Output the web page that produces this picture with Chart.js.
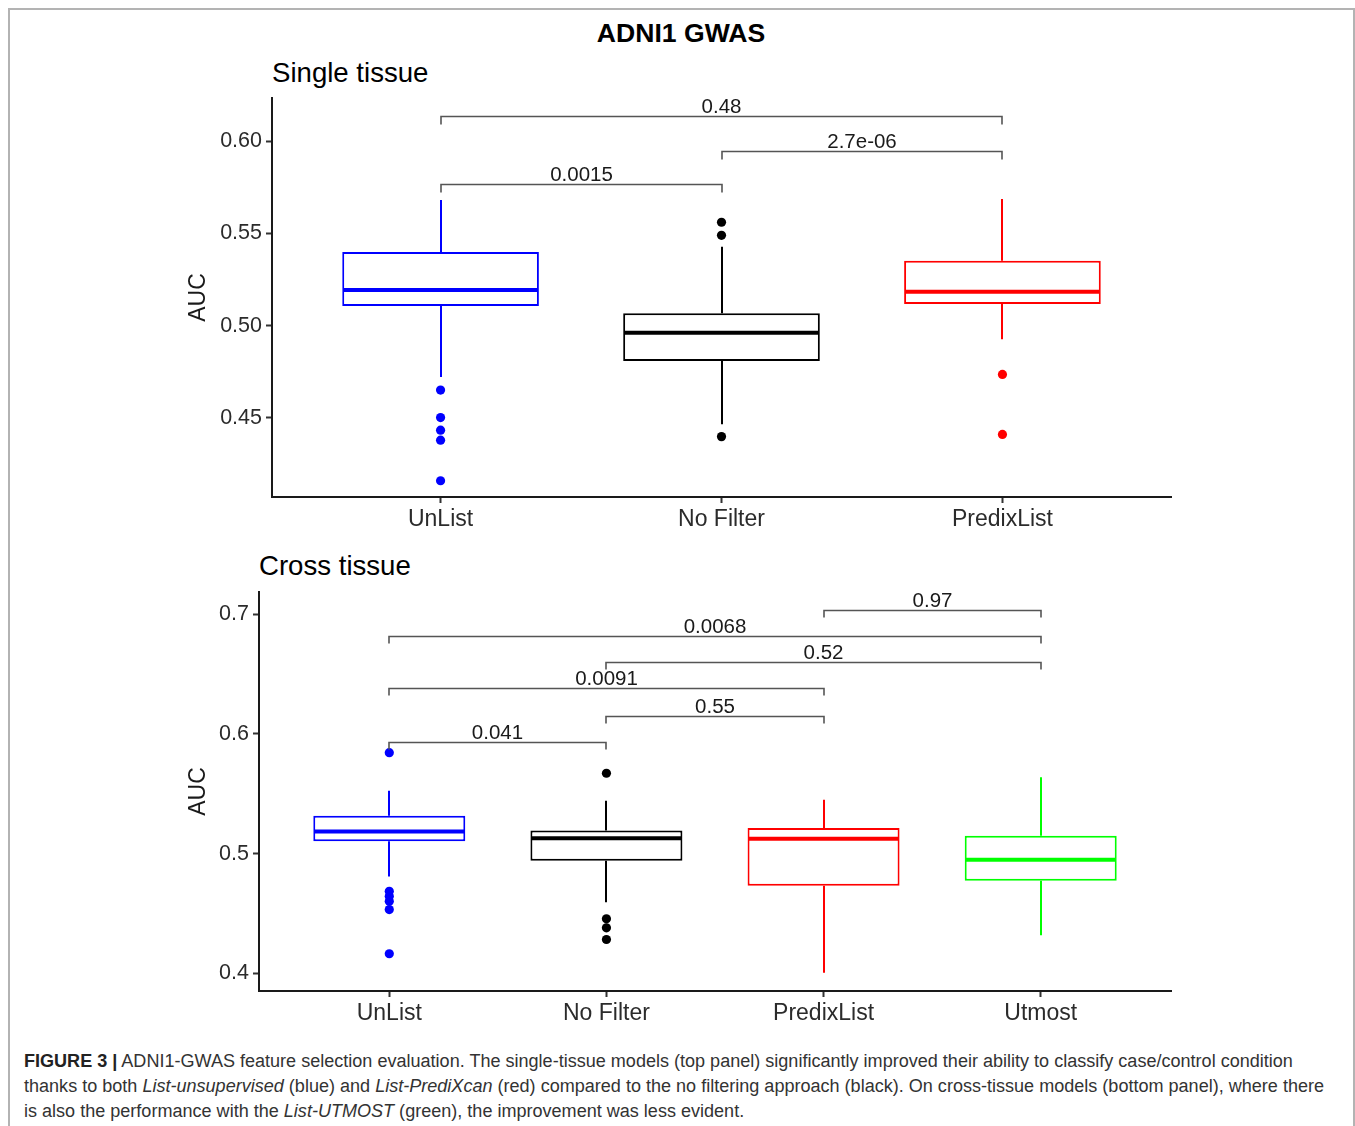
<!DOCTYPE html>
<html><head><meta charset="utf-8">
<script src="https://cdn.jsdelivr.net/npm/chart.js@4.4.0/dist/chart.umd.min.js"></script>
<style>
html,body{margin:0;padding:0;background:#fff;}
body{width:1355px;height:1126px;overflow:hidden;position:relative;font-family:"Liberation Sans",Arial,Helvetica,sans-serif;}
.frame{position:absolute;left:8px;top:8px;width:1343px;height:1200px;border:2px solid #b3b3b3;box-sizing:content-box;}
.txt{position:absolute;white-space:nowrap;color:#000;line-height:1;}
.wrap{position:absolute;left:0;width:1355px;}
#w1{top:0;height:540px;}
#w2{top:540px;height:500px;}
.caption{position:absolute;left:24px;top:1049px;font-size:16.5px;line-height:25px;color:#333;white-space:nowrap;}
.caption div{white-space:nowrap;}
</style></head>
<body>
<div class="frame"></div>
<div class="txt" style="left:0;width:1362px;text-align:center;top:20px;font-size:26.6px;font-weight:bold;">ADNI1 GWAS</div>
<div class="txt" style="left:272px;top:59px;font-size:27.6px;">Single tissue</div>
<div class="txt" style="left:259px;top:552px;font-size:27.6px;">Cross tissue</div>
<div class="wrap" id="w1"><canvas id="c1"></canvas></div>
<div class="wrap" id="w2"><canvas id="c2"></canvas></div>
<div class="caption" id="cap">
<div id="l1"><b style="color:#222">FIGURE 3 |</b> ADNI1-GWAS feature selection evaluation. The single-tissue models (top panel) significantly improved their ability to classify case/control condition</div>
<div id="l2">thanks to both <i>List-unsupervised</i> (blue) and <i>List-PrediXcan</i> (red) compared to the no filtering approach (black). On cross-tissue models (bottom panel), where there</div>
<div id="l3">is also the performance with the <i>List-UTMOST</i> (green), the improvement was less evident.</div>
</div>
<script>
// ---------- DATA: Single tissue ----------
const singleCats = ['UnList', 'No Filter', 'PredixList'];
const singleColors = ['#0000ff', '#000000', '#ff0000'];
const singleLow  = [0.4722, 0.4466, 0.4926];
const singleQ1   = [0.5106, 0.4808, 0.5117];
const singleMed  = [0.5193, 0.4962, 0.5184];
const singleQ3   = [0.5399, 0.5067, 0.5352];
const singleHigh = [0.5680, 0.5427, 0.5686];
const singleOutliers = [
  [0.4651, 0.4502, 0.4434, 0.4380, 0.4160],
  [0.5560, 0.5489, 0.4399],
  [0.4736, 0.4411]
];
const singleBrFrom  = [0, 1, 0];
const singleBrTo    = [1, 2, 2];
const singleBrY     = [0.5767, 0.5948, 0.6137];
const singleBrLabel = ['0.0015', '2.7e-06', '0.48'];

// ---------- DATA: Cross tissue ----------
const crossCats = ['UnList', 'No Filter', 'PredixList', 'Utmost'];
const crossColors = ['#0000ff', '#000000', '#ff0000', '#00ff00'];
const crossLow  = [0.4810, 0.4594, 0.4006, 0.4319];
const crossQ1   = [0.5103, 0.4942, 0.4733, 0.4775];
const crossMed  = [0.5186, 0.5128, 0.5125, 0.4950];
const crossQ3   = [0.5317, 0.5194, 0.5214, 0.5150];
const crossHigh = [0.5525, 0.5442, 0.5450, 0.5639];
const crossOutliers = [
  [0.5844, 0.4686, 0.4644, 0.4603, 0.4533, 0.4164],
  [0.5672, 0.4456, 0.4381, 0.4283],
  [],
  []
];
const crossBrFrom  = [0, 1, 0, 1, 0, 2];
const crossBrTo    = [1, 2, 2, 3, 3, 3];
const crossBrY     = [0.5931, 0.6153, 0.6381, 0.6603, 0.6817, 0.7039];
const crossBrLabel = ['0.041', '0.55', '0.0091', '0.52', '0.0068', '0.97'];

// fit caption line width
(function(){
  const el = document.getElementById('l2');
  const r = document.createRange(); r.selectNodeContents(el);
  const tw = r.getBoundingClientRect().width;
  const fs = 16.5 * 1301 / tw;
  document.getElementById('cap').style.fontSize = fs.toFixed(2) + 'px';
})();

const FONT = '"Liberation Sans", Arial, Helvetica, sans-serif';

function makeBoxChart(canvasId, cats, colors, low, q1, med, q3, high, outliers,
                      brFrom, brTo, brY, brLabel, cfg) {
  const n = cats.length;
  const boxData = cats.map((c, i) => ({x: i, y: [q1[i], q3[i]]}));
  const outData = [], outColors = [];
  outliers.forEach((arr, i) => arr.forEach(v => { outData.push({x: i, y: v}); outColors.push(colors[i]); }));

  const extras = {
    id: 'boxExtras_' + canvasId,
    beforeDatasetsDraw(chart) {
      const {ctx, scales: {x, y}} = chart;
      ctx.save();
      ctx.lineWidth = 2;
      for (let i = 0; i < n; i++) {
        const px = Math.round(x.getPixelForValue(i));
        ctx.strokeStyle = colors[i];
        ctx.beginPath();
        ctx.moveTo(px, y.getPixelForValue(high[i]));
        ctx.lineTo(px, y.getPixelForValue(q3[i]));
        ctx.moveTo(px, y.getPixelForValue(q1[i]));
        ctx.lineTo(px, y.getPixelForValue(low[i]));
        ctx.stroke();
      }
      ctx.restore();
    },
    afterDatasetsDraw(chart) {
      const {ctx, scales: {x, y}} = chart;
      const meta = chart.getDatasetMeta(0);
      ctx.save();
      ctx.lineWidth = 4;
      for (let i = 0; i < n; i++) {
        const el = meta.data[i];
        const p = el.getProps(['x', 'width'], true);
        const py = y.getPixelForValue(med[i]);
        ctx.strokeStyle = colors[i];
        ctx.beginPath();
        ctx.moveTo(p.x - p.width / 2 + 1, py);
        ctx.lineTo(p.x + p.width / 2 - 1, py);
        ctx.stroke();
      }
      // significance brackets
      ctx.strokeStyle = '#555555';
      ctx.lineWidth = 1.6;
      ctx.fillStyle = '#1a1a1a';
      ctx.font = cfg.brFont + 'px ' + FONT;
      ctx.textAlign = 'center';
      ctx.textBaseline = 'alphabetic';
      for (let k = 0; k < brY.length; k++) {
        const x1 = Math.round(x.getPixelForValue(brFrom[k]));
        const x2 = Math.round(x.getPixelForValue(brTo[k]));
        const py = Math.round(y.getPixelForValue(brY[k])) + 0.5;
        ctx.beginPath();
        ctx.moveTo(x1, py + cfg.tip);
        ctx.lineTo(x1, py);
        ctx.lineTo(x2, py);
        ctx.lineTo(x2, py + cfg.tip);
        ctx.stroke();
        ctx.fillText(brLabel[k], (x1 + x2) / 2, py - 3.5);
      }
      ctx.restore();
    }
  };

  return new Chart(document.getElementById(canvasId), {
    type: 'bar',
    data: {
      datasets: [
        {
          type: 'bar',
          data: boxData,
          backgroundColor: '#ffffff',
          borderColor: colors,
          borderWidth: 2,
          borderSkipped: false,
          barPercentage: 0.7,
          categoryPercentage: 1.0,
          order: 2
        },
        {
          type: 'scatter',
          data: outData,
          pointRadius: 4.6,
          pointBorderWidth: 0,
          pointBackgroundColor: outColors,
          pointBorderColor: outColors,
          showLine: false,
          order: 1
        }
      ]
    },
    options: {
      responsive: true,
      maintainAspectRatio: false,
      animation: false,
      events: [],
      layout: { padding: cfg.padding },
      plugins: { legend: { display: false }, tooltip: { enabled: false }, title: { display: false } },
      scales: {
        x: {
          type: 'linear',
          offset: false,
          min: -0.6,
          max: n - 1 + 0.6,
          afterFit: s => { s.height = cfg.xHeight; },
          afterBuildTicks: s => { s.ticks = cats.map((c, i) => ({value: i})); },
          ticks: {
            stepSize: 1,
            includeBounds: false,
            autoSkip: false,
            maxRotation: 0,
            padding: 3,
            color: '#2b2b2b',
            font: { family: FONT, size: 23 },
            callback: v => cats[v] !== undefined ? cats[v] : ''
          },
          grid: { display: true, offset: false, drawOnChartArea: false, drawTicks: true, tickLength: 6, tickWidth: 2, color: '#333333' },
          border: { display: true, color: '#1a1a1a', width: 2 }
        },
        y: {
          type: 'linear',
          min: cfg.yMin,
          max: cfg.yMax,
          afterFit: s => { s.width = cfg.yWidth; },
          ticks: {
            stepSize: cfg.step,
            includeBounds: false,
            padding: 4,
            color: '#2b2b2b',
            font: { family: FONT, size: 21.5 },
            callback: v => Number(v).toFixed(cfg.decimals)
          },
          grid: { display: true, drawOnChartArea: false, drawTicks: true, tickLength: 6, tickWidth: 2, color: '#333333' },
          border: { display: true, color: '#1a1a1a', width: 2 },
          title: { display: true, text: 'AUC', color: '#1a1a1a', font: { family: FONT, size: 23 }, padding: { top: 5, bottom: 0 } }
        }
      }
    },
    plugins: [extras]
  });
}

makeBoxChart('c1', singleCats, singleColors, singleLow, singleQ1, singleMed, singleQ3, singleHigh, singleOutliers,
  singleBrFrom, singleBrTo, singleBrY, singleBrLabel,
  { yMin: 0.4072, yMax: 0.6233, step: 0.05, decimals: 2, yWidth: 92, xHeight: 43,
    padding: { left: 180, top: 98, right: 184, bottom: 0 }, brFont: 20.5, tip: 8 });

makeBoxChart('c2', crossCats, crossColors, crossLow, crossQ1, crossMed, crossQ3, crossHigh, crossOutliers,
  crossBrFrom, crossBrTo, crossBrY, crossBrLabel,
  { yMin: 0.3853, yMax: 0.7186, step: 0.1, decimals: 1, yWidth: 79, xHeight: 49,
    padding: { left: 180, top: 52, right: 184, bottom: 0 }, brFont: 20.5, tip: 7 });
</script>
</body></html>
